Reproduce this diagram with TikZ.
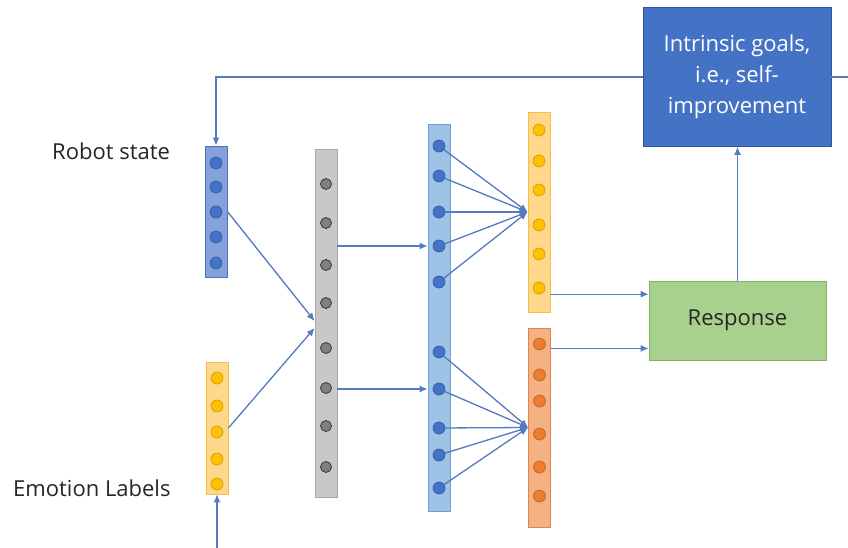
\documentclass[tikz,border=0pt]{standalone}
\usepackage{fontspec}
\setmainfont{Open Sans}
\usetikzlibrary{arrows.meta,calc}
\definecolor{linec}{RGB}{84,122,192}
\definecolor{rbfill}{RGB}{132,161,219}
\definecolor{rbdraw}{RGB}{74,112,190}
\definecolor{bdotc}{RGB}{68,114,196}
\definecolor{bdotd}{RGB}{52,92,170}
\definecolor{yfill}{RGB}{255,215,140}
\definecolor{ydraw}{RGB}{242,192,70}
\definecolor{ydotc}{RGB}{255,192,0}
\definecolor{ydotd}{RGB}{214,160,0}
\definecolor{gfill}{RGB}{200,200,200}
\definecolor{gdraw}{RGB}{168,168,168}
\definecolor{gdotc}{RGB}{128,128,128}
\definecolor{gdotd}{RGB}{45,45,45}
\definecolor{lbfill}{RGB}{157,195,230}
\definecolor{lbdraw}{RGB}{112,160,210}
\definecolor{ofill}{RGB}{244,177,131}
\definecolor{odraw}{RGB}{226,132,80}
\definecolor{odotc}{RGB}{237,125,49}
\definecolor{odotd}{RGB}{200,100,30}
\definecolor{gnfill}{RGB}{169,209,142}
\definecolor{gndraw}{RGB}{128,180,98}
\definecolor{igfill}{RGB}{68,114,196}
\definecolor{igdraw}{RGB}{47,85,151}
\definecolor{txt}{RGB}{38,38,38}
\begin{document}
\begin{tikzpicture}[x=1pt,y=-1pt,
  bar/.style={draw, rectangle, inner sep=0pt, minimum width=22pt, line width=0.8pt},
  dotn/.style={circle, draw, inner sep=0pt, minimum size=12pt, line width=0.7pt},
  bdot/.style={dotn, fill=bdotc, draw=bdotd},
  ydot/.style={dotn, fill=ydotc, draw=ydotd},
  gdot/.style={dotn, fill=gdotc, draw=gdotd, minimum size=11pt},
  odot/.style={dotn, fill=odotc, draw=odotd},
  conn/.style={draw=linec, line width=1.3pt},
  arr/.style={conn, -{Latex[length=8pt,width=7pt]}},
  lbl/.style={font=\fontsize{22pt}{31pt}\selectfont, text=txt, inner sep=0pt}]
\useasboundingbox (0,0) rectangle (848,548);
\fill[white] (0,0) rectangle (848,548);

% bars
\node[bar, fill=rbfill, draw=rbdraw, minimum height=131pt] (rb) at (216,211.5) {};
\node[bar, fill=yfill, draw=ydraw, minimum height=132pt] (eb) at (217,428) {};
\node[bar, fill=gfill, draw=gdraw, minimum height=348pt] (gb) at (326,323) {};
\node[bar, fill=lbfill, draw=lbdraw, minimum height=387pt] (bb) at (439,317.5) {};
\node[bar, fill=yfill, draw=ydraw, minimum height=200pt] (yb) at (539,212) {};
\node[bar, fill=ofill, draw=odraw, minimum height=199pt] (ob) at (539.5,427.5) {};

% boxes
\node[draw=gndraw, fill=gnfill, line width=0.8pt, minimum width=177pt, minimum height=79pt, lbl] (resp) at (737.5,320.5) {Response};
\node[draw=igdraw, fill=igfill, line width=0.8pt, minimum width=188pt, minimum height=139pt, lbl, text=white, align=center] (ig) at (737,77) {Intrinsic goals,\\ i.e., self-\\ improvement};

% dots
\foreach \y [count=\i] in {163,187,212,237,263} \node[bdot] (rd\i) at (216,\y) {};
\foreach \y [count=\i] in {378,406,432,459,484} \node[ydot] (ed\i) at (217,\y) {};
\foreach \y [count=\i] in {184,223,265,303,348,388,426,467} \node[gdot] (gd\i) at (326,\y) {};
\foreach \y [count=\i] in {146,176,212,246,282,352,389,428,455,488} \node[bdot] (bd\i) at (439,\y) {};
\foreach \y [count=\i] in {130,161,190,225,254,288} \node[ydot] (yd\i) at (539,\y) {};
\foreach \y [count=\i] in {344,375,401,434,467,496} \node[odot] (od\i) at (539.5,\y) {};

% labels
\node[lbl, anchor=base west] (rs) at (52,160) {Robot state};
\node[lbl, anchor=base west] (el) at (13,496) {Emotion Labels};

% connectors
\draw[arr] (rb.east) -- ([yshift=2pt]gb.west);
\draw[arr] (eb.east) -- ([yshift=-5pt]gb.west);
\draw[arr] (gb.east |- bd4) -- (bb.west |- bd4);
\draw[arr] (gb.east |- bd7) -- (bb.west |- bd7);
\foreach \i in {1,...,5} \draw[arr] (bd\i) -- (yb.west);
\foreach \i in {6,...,10} \draw[arr] (bd\i) -- (ob.west);
\coordinate (r1) at ($(resp.north west)!0.17!(resp.south west)$);
\coordinate (r2) at ($(resp.north west)!0.85!(resp.south west)$);
\draw[arr] (yb.east |- r1) -- (r1);
\draw[arr] (ob.east |- r2) -- (r2);
\draw[arr] (resp.north) -- (resp.north |- ig.south);
\draw[arr] (ig.west) -| (rb.north);
\coordinate (edgeR) at (848,77);
\draw[conn] (ig.east) -- (edgeR);
\coordinate (edgeB) at (217,548);
\draw[arr] (edgeB) -- (eb.south);
\end{tikzpicture}
\end{document}
